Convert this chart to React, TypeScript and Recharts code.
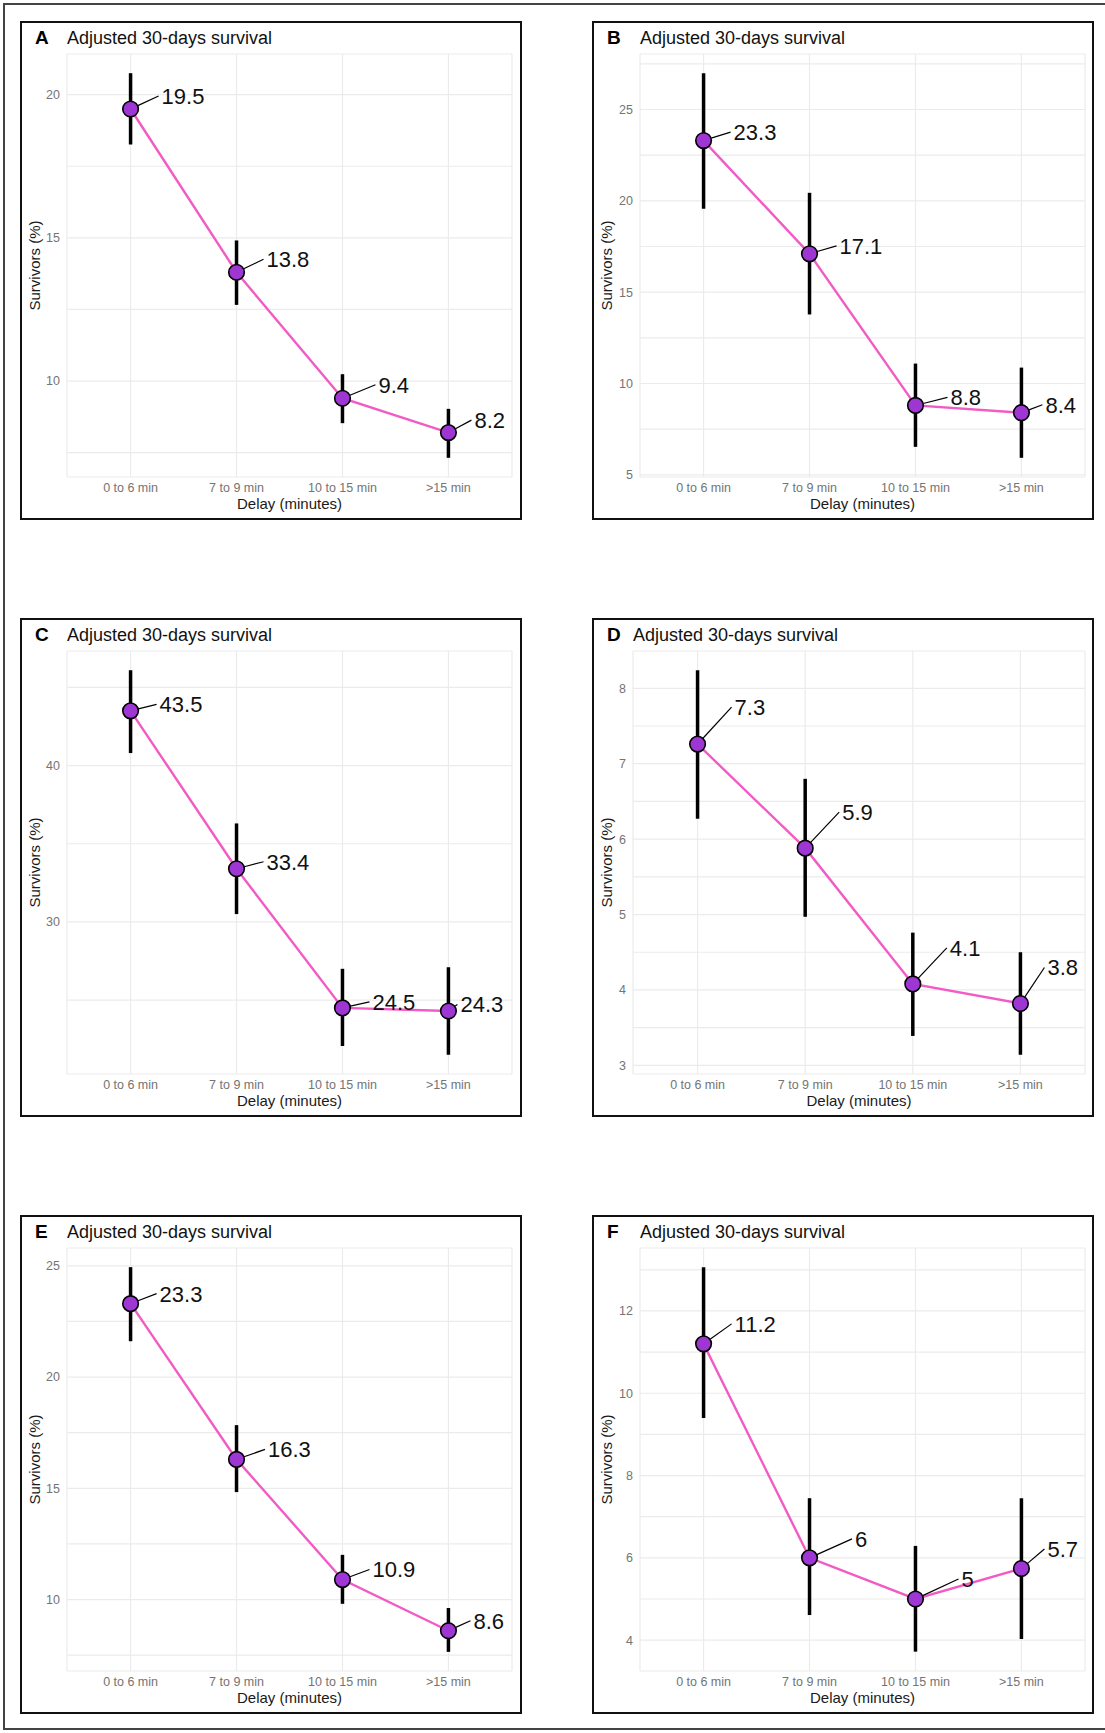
import { LineChart, Line, XAxis, YAxis, CartesianGrid, ErrorBar } from 'recharts'

// delay groups (x axis)
const CATEGORIES = ['0 to 6 min', '7 to 9 min', '10 to 15 min', '>15 min']
const TITLE = 'Adjusted 30-days survival'

// panel A
const A_SURV = [19.5, 13.8, 9.4, 8.2]
const A_LOW = [18.26, 12.66, 8.53, 7.32]
const A_HIGH = [20.75, 14.91, 10.24, 9.03]
const A_TICKS = [10, 15, 20]
const A_MINOR = [7.5, 12.5, 17.5]
const A_RANGE = [6.65, 21.42]

// panel B
const B_SURV = [23.3, 17.1, 8.8, 8.4]
const B_LOW = [19.57, 13.78, 6.53, 5.93]
const B_HIGH = [26.99, 20.44, 11.09, 10.87]
const B_TICKS = [5, 10, 15, 20, 25]
const B_MINOR = [7.5, 12.5, 17.5, 22.5, 27.5]
const B_RANGE = [4.88, 28.04]

// panel C
const C_SURV = [43.5, 33.4, 24.5, 24.3]
const C_LOW = [40.8, 30.5, 22.06, 21.5]
const C_HIGH = [46.1, 36.3, 27.0, 27.1]
const C_TICKS = [30, 40]
const C_MINOR = [25, 35, 45]
const C_RANGE = [20.27, 47.33]

// panel D
const D_SURV = [7.26, 5.88, 4.08, 3.82]
const D_LOW = [6.27, 4.97, 3.39, 3.14]
const D_HIGH = [8.24, 6.8, 4.76, 4.5]
const D_TICKS = [3, 4, 5, 6, 7, 8]
const D_MINOR = [3.5, 4.5, 5.5, 6.5, 7.5]
const D_RANGE = [2.885, 8.495]

// panel E
const E_SURV = [23.3, 16.3, 10.9, 8.6]
const E_LOW = [21.61, 14.83, 9.81, 7.65]
const E_HIGH = [24.94, 17.84, 12.01, 9.62]
const E_TICKS = [10, 15, 20, 25]
const E_MINOR = [7.5, 12.5, 17.5, 22.5]
const E_RANGE = [6.79, 25.8]

// panel F
const F_SURV = [11.2, 6.0, 5.0, 5.74]
const F_LOW = [9.4, 4.61, 3.72, 4.03]
const F_HIGH = [13.06, 7.45, 6.29, 7.45]
const F_TICKS = [4, 6, 8, 10, 12]
const F_MINOR = [5, 7, 9, 11, 13]
const F_RANGE = [3.25, 13.53]

// label nudges (text left / text middle relative to the point), like ggrepel put them
const A_NUDGE = [[31, -13], [30, -13], [36, -13.5], [26, -12.5]]
const B_NUDGE = [[30, -8.5], [30, -8], [35, -8], [24, -8]]
const C_NUDGE = [[29, -6.5], [30, -7], [30, -6], [12, -6.5]]
const D_NUDGE = [[37, -37], [37, -36], [37, -36], [27, -36]]
const E_NUDGE = [[29, -10], [31.5, -10], [30, -10], [25, -10]]
const F_NUDGE = [[31, -20], [45.5, -19], [46, -20], [26, -19.5]]

const LINE_COLOR = '#F35BC4'
const DOT_FILL = '#9D36D2'
const GRID = '#ebebeb'
const TICK_COLOR = '#747474'

const PANEL_W = 502
const PANEL_H = 499
const CHART_W = PANEL_W - 4
const CHART_H = PANEL_H - 4
const PLOT_TOP = 31
const PLOT_H = 423
const X_AXIS_H = 20

const PANELS = [
  { tag: 'A', surv: A_SURV, low: A_LOW, high: A_HIGH, ticks: A_TICKS, minor: A_MINOR, range: A_RANGE, nudge: A_NUDGE, x: 20, y: 21, plotLeft: 45, plotW: 445 },
  { tag: 'B', surv: B_SURV, low: B_LOW, high: B_HIGH, ticks: B_TICKS, minor: B_MINOR, range: B_RANGE, nudge: B_NUDGE, x: 592, y: 21, plotLeft: 46, plotW: 445 },
  { tag: 'C', surv: C_SURV, low: C_LOW, high: C_HIGH, ticks: C_TICKS, minor: C_MINOR, range: C_RANGE, nudge: C_NUDGE, x: 20, y: 618, plotLeft: 45, plotW: 445 },
  { tag: 'D', surv: D_SURV, low: D_LOW, high: D_HIGH, ticks: D_TICKS, minor: D_MINOR, range: D_RANGE, nudge: D_NUDGE, x: 592, y: 618, plotLeft: 39, plotW: 452 },
  { tag: 'E', surv: E_SURV, low: E_LOW, high: E_HIGH, ticks: E_TICKS, minor: E_MINOR, range: E_RANGE, nudge: E_NUDGE, x: 20, y: 1215, plotLeft: 45, plotW: 445 },
  { tag: 'F', surv: F_SURV, low: F_LOW, high: F_HIGH, ticks: F_TICKS, minor: F_MINOR, range: F_RANGE, nudge: F_NUDGE, x: 592, y: 1215, plotLeft: 46, plotW: 445 },
]

const fmt = (v: number) => String(Math.round(v * 10) / 10)

function makeDot(nudge: number[][]) {
  return (props: any) => {
    const { cx, cy, index, payload } = props
    if (cx == null || cy == null) return <g key={`d-${index}`} />
    const [dx, dy] = nudge[index]
    const ex = cx + dx - 3
    const ey = cy + dy
    const len = Math.hypot(ex - cx, ey - cy)
    const sx = cx + ((ex - cx) / len) * 8
    const sy = cy + ((ey - cy) / len) * 8
    return (
      <g key={`d-${index}`}>
        {len > 10 && <line x1={sx} y1={sy} x2={ex} y2={ey} stroke="#000" strokeWidth={1.2} />}
        <circle cx={cx} cy={cy} r={7.8} fill={DOT_FILL} stroke="#000" strokeWidth={1.6} />
        <text x={cx + dx} y={cy + dy + 7.9} fontSize={22} fill="#111">
          {fmt(payload.v)}
        </text>
      </g>
    )
  }
}

function Panel({ p }: { p: any }) {
  const rows = p.surv.map((v: number, i: number) => ({
    i,
    cat: CATEGORIES[i],
    v,
    err: [v - p.low[i], p.high[i] - v],
  }))
  const yTicks = [...p.ticks, ...p.minor].sort((a: number, b: number) => a - b)
  const right = CHART_W - p.plotLeft - p.plotW
  const bottom = CHART_H - PLOT_TOP - PLOT_H - X_AXIS_H

  return (
    <div
      style={{
        position: 'absolute',
        left: p.x,
        top: p.y,
        width: PANEL_W,
        height: PANEL_H,
        boxSizing: 'border-box',
        border: '2px solid #111',
        background: '#fff',
      }}
    >
      <LineChart width={CHART_W} height={CHART_H} data={rows} margin={{ top: PLOT_TOP, right, bottom, left: 7 }}>
        <CartesianGrid stroke={GRID} strokeWidth={1.2} />
        <XAxis
          type="number"
          dataKey="i"
          domain={[-0.6, 3.6]}
          allowDataOverflow
          ticks={[0, 1, 2, 3]}
          interval={0}
          tickFormatter={(i: number) => CATEGORIES[i]}
          axisLine={false}
          tickLine={false}
          tickSize={4}
          tickMargin={2}
          height={X_AXIS_H}
          tick={{ fontSize: 12.5, fill: TICK_COLOR }}
          label={{ value: 'Delay (minutes)', position: 'bottom', offset: 1, fontSize: 15, fill: '#1a1a1a' }}
        />
        <YAxis
          type="number"
          domain={p.range}
          allowDataOverflow
          ticks={yTicks}
          interval={0}
          tickFormatter={(v: number) => (p.ticks.includes(v) ? String(v) : '')}
          axisLine={false}
          tickLine={false}
          tickSize={5}
          tickMargin={2}
          width={p.plotLeft - 7}
          tick={{ fontSize: 12.5, fill: TICK_COLOR }}
          label={{
            value: 'Survivors (%)',
            angle: -90,
            position: 'insideLeft',
            offset: 6,
            fontSize: 15,
            fill: '#1a1a1a',
            style: { textAnchor: 'middle' },
          }}
        />
        <Line
          type="linear"
          dataKey="v"
          stroke={LINE_COLOR}
          strokeWidth={2.4}
          dot={makeDot(p.nudge)}
          activeDot={false}
          isAnimationActive={false}
        >
          <ErrorBar dataKey="err" direction="y" width={0} stroke="#000" strokeWidth={3.5} isAnimationActive={false} />
        </Line>
      </LineChart>
      <svg width={CHART_W} height={CHART_H} style={{ position: 'absolute', left: 0, top: 0, pointerEvents: 'none' }}>
        <text x={13} y={20.5} fontSize={19} fontWeight="bold" fill="#000">
          {p.tag}
        </text>
        <text x={p.plotLeft} y={20.5} fontSize={18} fill="#111">
          {TITLE}
        </text>
      </svg>
    </div>
  )
}

export default function App() {
  return (
    <div
      style={{
        position: 'absolute',
        left: 0,
        top: 0,
        width: 1105,
        height: 1733,
        background: '#fff',
        overflow: 'hidden',
        fontFamily: '"Liberation Sans", Arial, Helvetica, sans-serif',
      }}
    >
      <div
        style={{
          position: 'absolute',
          left: 3,
          top: 3,
          width: 1102,
          height: 1727,
          boxSizing: 'border-box',
          borderLeft: '2px solid #444',
          borderTop: '2px solid #444',
          borderBottom: '2px solid #444',
        }}
      />
      {PANELS.map((p) => (
        <Panel key={p.tag} p={p} />
      ))}
    </div>
  )
}
